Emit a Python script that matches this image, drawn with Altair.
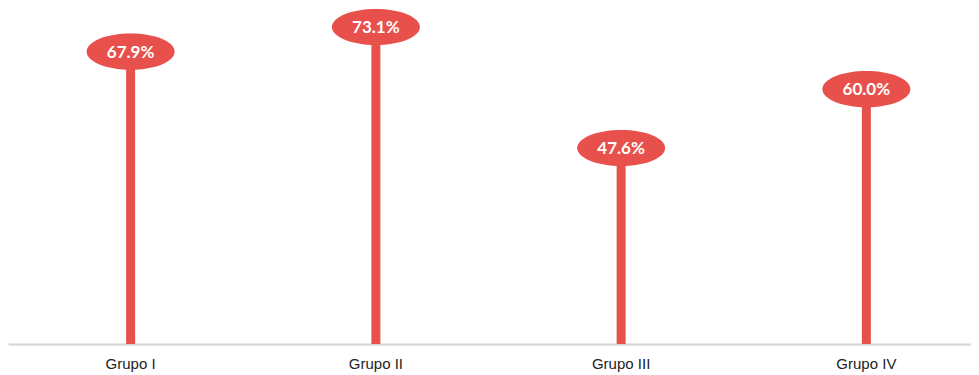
import altair as alt
import pandas as pd

categories = ["Grupo I", "Grupo II", "Grupo III", "Grupo IV"]
values = [67.9, 73.1, 47.6, 60.0]
labels = ["67.9%", "73.1%", "47.6%", "60.0%"]

df = pd.DataFrame({"cat": categories, "val": values, "lab": labels})

RED = "#E8504C"
ymin, ymax = 6.3, 77.1

x = alt.X("cat:N", sort=categories, title=None,
          scale=alt.Scale(paddingInner=0, paddingOuter=0, range=[0, 981]),
          axis=alt.Axis(labelAngle=0, ticks=False, domainColor="#d4d4d4", domainWidth=2,
                        labelFont="Liberation Sans, Arial, sans-serif", labelFontSize=15,
                        labelColor="#222222", labelPadding=12, grid=False))
y = alt.Y("val:Q", scale=alt.Scale(domain=[ymin, ymax], zero=False), axis=None)

base = alt.Chart(df).encode(x=x)

stems = base.mark_bar(color=RED, size=9).encode(y=y, y2=alt.datum(ymin))
ellipse = base.mark_point(
    shape="M-1,0 A1,0.41 0 1,0 1,0 A1,0.41 0 1,0 -1,0 Z",
    size=7744, filled=True, color=RED, opacity=1, strokeWidth=0,
).encode(y=y)
text = base.mark_text(color="white", font="Lato", fontSize=17, fontWeight="bold",
                      baseline="middle", dy=1).encode(y=y, text="lab:N")

chart = (stems + ellipse + text).properties(
    width=963, height=336,
    padding={"left": 0, "top": 0, "right": 0, "bottom": 31},
    autosize=alt.AutoSizeParams(type="none"),
).configure_view(stroke=None)

chart.save("out.html", embed_options={"renderer": "svg", "actions": False})
